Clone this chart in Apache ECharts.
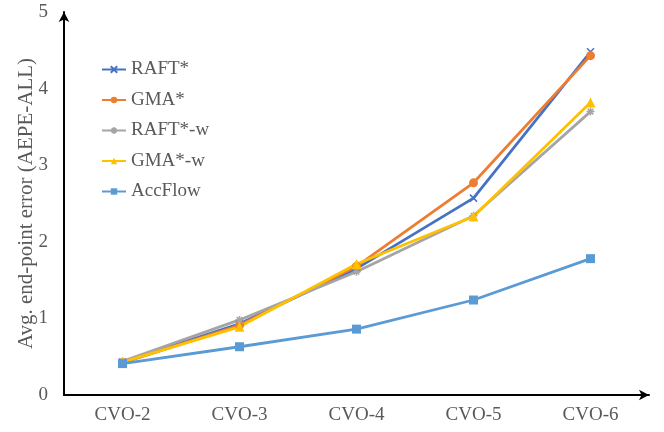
<!DOCTYPE html>
<html><head><meta charset="utf-8">
<script src="https://cdn.jsdelivr.net/npm/echarts@6/dist/echarts.min.js"></script>
<style>html,body{margin:0;padding:0;background:#fff}#c{width:664px;height:432px}</style>
</head><body><div id="c"></div>
<script>
var categories = ['CVO-2','CVO-3','CVO-4','CVO-5','CVO-6'];
var yTicks = [0,1,2,3,4,5];
var raft = [0.43, 0.93, 1.65, 2.57, 4.48];
var gma = [0.42, 0.91, 1.68, 2.77, 4.43];
var raftW = [0.44, 0.98, 1.61, 2.34, 3.70];
var gmaW = [0.43, 0.89, 1.71, 2.33, 3.82];
var accFlow = [0.41, 0.63, 0.86, 1.24, 1.78];

var font = 'Liberation Serif, Times New Roman, serif';
var xSym = 'path://M0,0L10,10M10,0L0,10';
var starSym = 'path://M5,0L5,10M0,5L10,5M1.5,1.5L8.5,8.5M8.5,1.5L1.5,8.5';
function s(name, data, color, symbol, size, stroke){
  return {name:name, type:'line', data:data, symbol:symbol, symbolSize:size,
    lineStyle:{color:color, width:2.8},
    itemStyle:{color:color, borderColor:color, borderWidth: stroke ? 1.5 : 0},
    emphasis:{disabled:true}, animation:false};
}
var chart = echarts.init(document.getElementById('c'));
chart.setOption({
  animation:false,
  textStyle:{fontFamily:font},
  grid:{left:64, right:15, top:12, bottom:37},
  legend:{orient:'vertical', left:101, top:60, padding:0, itemWidth:24, itemHeight:8, itemGap:11.5,
    textStyle:{fontFamily:font, fontSize:19, color:'#595959'},
    data:['RAFT*','GMA*','RAFT*-w','GMA*-w','AccFlow']},
  xAxis:{type:'category', data:categories, boundaryGap:true,
    axisLine:{lineStyle:{color:'#000', width:2}, symbol:['none','arrow'], symbolSize:[8,10]},
    axisTick:{show:false},
    axisLabel:{fontFamily:font, fontSize:19, color:'#595959', margin:11}},
  yAxis:{type:'value', min:yTicks[0], max:yTicks[yTicks.length-1], interval:1,
    name:'Avg. end-point error (AEPE-ALL)', nameLocation:'middle', nameGap:27, nameMoveOverlap:false,
    nameTextStyle:{fontFamily:font, fontSize:21, color:'#595959'},
    axisLine:{show:true, lineStyle:{color:'#000', width:2}, symbol:['none','arrow'], symbolSize:[8,10]},
    axisTick:{show:false}, splitLine:{show:false},
    axisLabel:{fontFamily:font, fontSize:19, color:'#595959', margin:16}},
  series:[
    s('RAFT*', raft, '#4472C4', xSym, 7, true),
    s('GMA*', gma, '#ED7D31', 'circle', 9, false),
    s('RAFT*-w', raftW, '#A5A5A5', starSym, 8, true),
    s('GMA*-w', gmaW, '#FFC000', 'triangle', 10, false),
    s('AccFlow', accFlow, '#5B9BD5', 'rect', 9, false)
  ]
});
</script></body></html>
